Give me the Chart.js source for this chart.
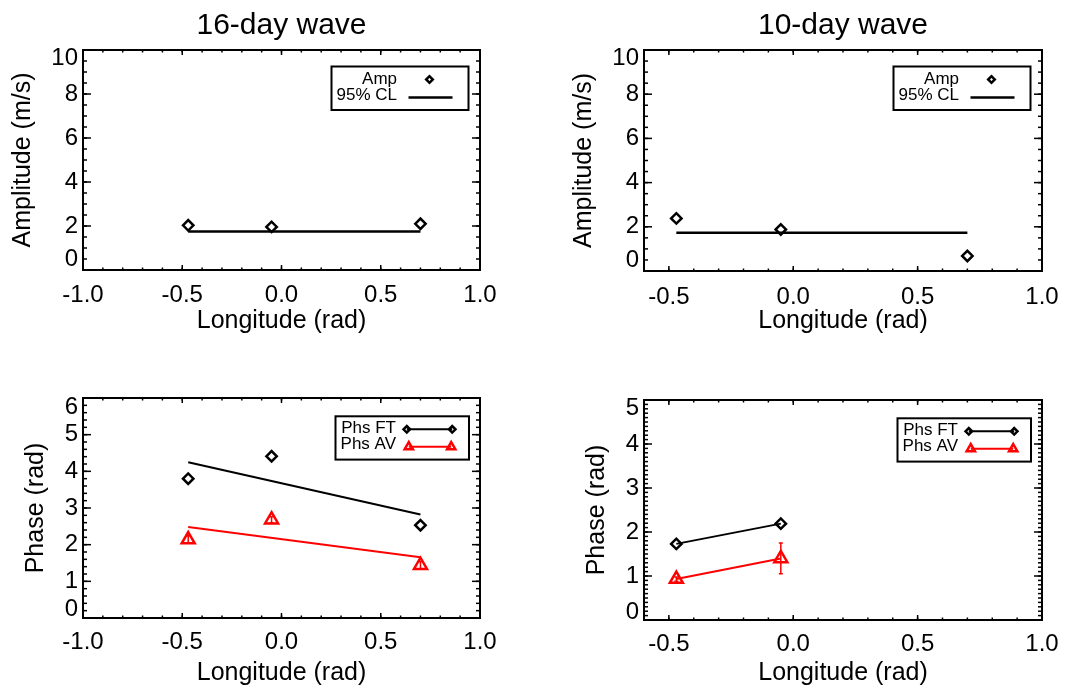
<!DOCTYPE html>
<html>
<head>
<meta charset="utf-8">
<title>16-day and 10-day wave amplitude and phase vs longitude</title>
<script src="https://cdn.jsdelivr.net/npm/chart.js@4/dist/chart.umd.min.js"></script>
<style>
  html, body { margin: 0; padding: 0; background: #fff; width: 1079px; height: 689px; overflow: hidden; }
  .panel { position: absolute; }
</style>
</head>
<body>
<div class="panel" style="left:0;top:0;width:540px;height:336px"><canvas id="ampLong"></canvas></div>
<div class="panel" style="left:561px;top:0;width:518px;height:336px"><canvas id="ampShort"></canvas></div>
<div class="panel" style="left:0;top:349px;width:540px;height:340px"><canvas id="phsLong"></canvas></div>
<div class="panel" style="left:561px;top:349px;width:518px;height:340px"><canvas id="phsShort"></canvas></div>
<script>
// Station longitudes (rad)
const lonAmp = [-0.47, -0.05, 0.70];
const lonPhs10 = [-0.47, -0.05];

// 16-day wave: amplitude (m/s) and 95% confidence level
const amp16 = [2.03, 1.96, 2.10];
const cl16 = [1.75, 1.75];

// 10-day wave: amplitude (m/s) and 95% confidence level
const amp10 = [2.38, 1.88, 0.68];
const cl10 = [1.73, 1.73];

// 16-day wave phases (rad): FT and AV estimates, AV uncertainty, fitted trend end values
const phsFT16 = [3.80, 4.41, 2.53];
const phsAV16 = [2.14, 2.68, 1.44];
const errAV16 = [0.10, 0.08, 0.10];
const fitFT16 = [4.25, 2.82];
const fitAV16 = [2.48, 1.66];

// 10-day wave phases (rad)
const phsFT10 = [1.73, 2.19];
const phsAV10 = [0.93, 1.40];
const errAV10 = [0.05, 0.35];

// Axis ticks and their labels
const lonTicksWide = [-1.0, -0.5, 0.0, 0.5, 1.0];
const lonLabelsWide = ['-1.0', '-0.5', '0.0', '0.5', '1.0'];
const lonTicksNarrow = [-0.5, 0.0, 0.5, 1.0];
const lonLabelsNarrow = ['-0.5', '0.0', '0.5', '1.0'];
const ampTicks = [0, 2, 4, 6, 8, 10];
const ampLabels = ['0', '2', '4', '6', '8', '10'];
const phsTicks16 = [0, 1, 2, 3, 4, 5, 6];
const phsLabels16 = ['0', '1', '2', '3', '4', '5', '6'];
const phsTicks10 = [0, 1, 2, 3, 4, 5];
const phsLabels10 = ['0', '1', '2', '3', '4', '5'];

const FONT = "'Liberation Sans', Arial, Helvetica, sans-serif";
const INK = '#000';
const RED = '#ff0000';

const pts = (xs, ys) => xs.map((x, i) => ({ x, y: ys[i] }));

// Hollow marker used inside the boxed legends
function drawMarker(ctx, style, x, y, r) {
  ctx.beginPath();
  if (style === 'diamond') {
    ctx.moveTo(x - r, y); ctx.lineTo(x, y - r); ctx.lineTo(x + r, y); ctx.lineTo(x, y + r);
  } else {
    const s = Math.sin(Math.PI / 3) * r;
    ctx.moveTo(x, y - r); ctx.lineTo(x + s, y + r / 2); ctx.lineTo(x - s, y + r / 2);
  }
  ctx.closePath();
  ctx.stroke();
}

// Box frame with inward major and minor ticks on all four sides
const idlFrame = {
  id: 'idlFrame',
  afterDraw(chart, args, o) {
    const { ctx, chartArea: a } = chart;
    const xs = chart.scales.x, ys = chart.scales.y;
    const seg = (x1, y1, x2, y2) => { ctx.beginPath(); ctx.moveTo(x1, y1); ctx.lineTo(x2, y2); ctx.stroke(); };
    const steps = (min, max, step) => {
      const out = []; const n = Math.round((max - min) / step);
      for (let k = 0; k <= n; k++) out.push(min + k * step);
      return out;
    };
    ctx.save();
    ctx.strokeStyle = '#000';
    ctx.lineWidth = 1.5;
    steps(xs.min, xs.max, o.xMinor).forEach(v => {
      const p = xs.getPixelForValue(v);
      seg(p, a.bottom, p, a.bottom - o.xLen / 2); seg(p, a.top, p, a.top + o.xLen / 2);
    });
    xs.ticks.forEach(t => {
      const p = xs.getPixelForValue(t.value);
      seg(p, a.bottom, p, a.bottom - o.xLen); seg(p, a.top, p, a.top + o.xLen);
    });
    steps(ys.min, ys.max, o.yMinor).forEach(v => {
      const p = ys.getPixelForValue(v);
      seg(a.left, p, a.left + o.yLen / 2, p); seg(a.right, p, a.right - o.yLen / 2, p);
    });
    ys.ticks.forEach(t => {
      const p = ys.getPixelForValue(t.value);
      seg(a.left, p, a.left + o.yLen, p); seg(a.right, p, a.right - o.yLen, p);
    });
    ctx.lineWidth = 2;
    ctx.strokeRect(a.left, a.top, a.right - a.left, a.bottom - a.top);
    ctx.restore();
  }
};

// Vertical error bars for datasets carrying an `errors` array
const errorBars = {
  id: 'errorBars',
  afterDatasetsDraw(chart) {
    const { ctx } = chart;
    const xs = chart.scales.x, ys = chart.scales.y;
    chart.data.datasets.forEach(ds => {
      if (!ds.errors) return;
      ctx.save();
      ctx.strokeStyle = ds.pointBorderColor;
      ctx.lineWidth = 1.5;
      ds.data.forEach((p, i) => {
        const e = ds.errors[i];
        const x = xs.getPixelForValue(p.x);
        const y1 = ys.getPixelForValue(p.y - e), y2 = ys.getPixelForValue(p.y + e);
        ctx.beginPath();
        ctx.moveTo(x, y1); ctx.lineTo(x, y2);
        ctx.moveTo(x - 2, y1); ctx.lineTo(x + 2, y1);
        ctx.moveTo(x - 2, y2); ctx.lineTo(x + 2, y2);
        ctx.stroke();
      });
      ctx.restore();
    });
  }
};

// Framed legend in the upper right corner of the plot
const boxLegend = {
  id: 'boxLegend',
  afterDraw(chart, args, o) {
    if (!o || !o.rows) return;
    const { ctx, chartArea: a } = chart;
    const left = a.right - o.right - o.width, top = a.top + o.top;
    ctx.save();
    ctx.lineWidth = 2;
    ctx.strokeStyle = '#000';
    ctx.strokeRect(left, top, o.width, o.height);
    ctx.font = '17px ' + FONT;
    ctx.textAlign = 'right';
    ctx.textBaseline = 'middle';
    o.rows.forEach(r => {
      const y = top + r.dy;
      ctx.fillStyle = INK;
      ctx.fillText(r.text, left + o.textRight, y);
      const sy = top + r.sampleDy;
      ctx.strokeStyle = r.color;
      if (r.line) {
        ctx.lineWidth = r.lineWidth;
        ctx.beginPath(); ctx.moveTo(left + r.line[0], sy); ctx.lineTo(left + r.line[1], sy); ctx.stroke();
      }
      ctx.lineWidth = 2.5;
      r.markers.forEach(mx => drawMarker(ctx, r.style, left + mx, sy, r.radius));
    });
    ctx.restore();
  }
};

const legendAmp = {
  right: 11.5, width: 137, top: 16.5, height: 43.5, textRight: 65.5,
  rows: [
    { text: 'Amp', dy: 12.5, sampleDy: 13, color: '#000', style: 'diamond', radius: 3.3, markers: [98] },
    { text: '95% CL', dy: 28.5, sampleDy: 31, color: '#000', line: [77, 121], lineWidth: 2.5, style: 'diamond', radius: 0, markers: [] }
  ]
};
const legendPhs = {
  right: 11, width: 133.5, top: 18.3, height: 43.3, textRight: 60.5,
  rows: [
    { text: 'Phs FT', dy: 12.5, sampleDy: 13, color: '#000', line: [71.3, 116.7], lineWidth: 2, style: 'diamond', radius: 3.3, markers: [71.3, 116.7] },
    { text: 'Phs AV', dy: 28.5, sampleDy: 30.5, color: RED, line: [73.3, 115.7], lineWidth: 2, style: 'triangle', radius: 4.8, markers: [73.3, 115.7] }
  ]
};

function diamonds(xs, ys) {
  return { data: pts(xs, ys), showLine: false, pointStyle: 'rectRot', pointRadius: 5.2,
           pointBorderWidth: 2.5, pointBorderColor: '#000', pointBackgroundColor: 'rgba(0,0,0,0)' };
}
function triangles(xs, ys, errs) {
  return { data: pts(xs, ys), errors: errs, showLine: false, pointStyle: 'triangle', pointRadius: 7.5,
           pointBorderWidth: 2.5, pointBorderColor: RED, pointBackgroundColor: 'rgba(0,0,0,0)' };
}
function trend(xs, ys, color, width) {
  return { data: pts(xs, ys), showLine: true, borderColor: color, borderWidth: width, pointRadius: 0 };
}

function makeChart(id, c) {
  // first and last y labels are nudged inside the frame (half line-height shift)
  const tickFont = (ctx) => ({ family: FONT, size: 24,
    lineHeight: (ctx.index === 0 ? c.yEndShift[0] * 2 : c.yEndShift[1] * 2) + 'px' });
  return new Chart(document.getElementById(id), {
    type: 'scatter',
    data: { datasets: c.datasets },
    options: {
      responsive: true,
      maintainAspectRatio: false,
      animation: false,
      events: [],
      layout: { padding: c.padding },
      plugins: {
        legend: { display: false },
        tooltip: { enabled: false },
        title: c.title
          ? { display: true, text: c.title, fullSize: false, color: INK,
              font: { family: FONT, size: 30, weight: 'normal' }, padding: { top: 8, bottom: 6 } }
          : { display: false },
        idlFrame: { xMinor: 0.1, yMinor: c.yMinor, xLen: 5, yLen: 8 },
        boxLegend: c.legend
      },
      scales: {
        x: {
          type: 'linear', position: 'bottom', min: c.xMin, max: c.xMax,
          afterBuildTicks: s => { s.ticks = c.xTicks.map(v => ({ value: v })); },
          afterFit: s => { s.height = c.xHeight; },
          grid: { display: false, drawTicks: false },
          border: { display: false },
          ticks: { autoSkip: false, maxRotation: 0, padding: c.xPad, color: INK,
                   font: { family: FONT, size: 24 }, callback: (v, i) => c.xLabels[i] },
          title: { display: true, text: 'Longitude (rad)', color: INK,
                   font: { family: FONT, size: 25 }, padding: { top: 0, bottom: c.xTitlePad } }
        },
        y: {
          type: 'linear', position: 'left', min: c.yMin, max: c.yMax,
          afterBuildTicks: s => { s.ticks = c.yTicks.map(v => ({ value: v })); },
          afterFit: s => { s.width = 83; },
          grid: { display: false, drawTicks: false },
          border: { display: false },
          ticks: {
            autoSkip: false, padding: 5, color: INK, font: tickFont,
            callback: (v, i, arr) => {
              const t = c.yLabels[i];
              if (i === 0) return [t, ''];
              if (i === arr.length - 1) return ['', t];
              return t;
            }
          },
          title: { display: true, text: c.yTitle, color: INK,
                   font: { family: FONT, size: 25 }, padding: { top: c.yTitlePad, bottom: 0 } }
        }
      }
    },
    plugins: [idlFrame, errorBars, boxLegend]
  });
}

const ends = [lonAmp[0], lonAmp[2]];

makeChart('ampLong', {
  title: '16-day wave',
  padding: { left: 0, right: 60, top: 0, bottom: 0 },
  xMin: -1.0, xMax: 1.0, xTicks: lonTicksWide, xLabels: lonLabelsWide,
  yMin: 0, yMax: 10, yTicks: ampTicks, yLabels: ampLabels, yMinor: 0.5, yEndShift: [11, 8.5],
  yTitle: 'Amplitude (m/s)', yTitlePad: 8.5,
  xHeight: 66, xPad: 11, xTitlePad: 0,
  legend: legendAmp,
  datasets: [trend(ends, cl16, '#000', 2.5), diamonds(lonAmp, amp16)]
});

makeChart('ampShort', {
  title: '10-day wave',
  padding: { left: 0, right: 37, top: 0, bottom: 0 },
  xMin: -0.6, xMax: 1.0, xTicks: lonTicksNarrow, xLabels: lonLabelsNarrow,
  yMin: 0, yMax: 10, yTicks: ampTicks, yLabels: ampLabels, yMinor: 0.5, yEndShift: [11, 8.5],
  yTitle: 'Amplitude (m/s)', yTitlePad: 8.5,
  xHeight: 65, xPad: 12, xTitlePad: 0,
  legend: legendAmp,
  datasets: [trend(ends, cl10, '#000', 2.5), diamonds(lonAmp, amp10)]
});

makeChart('phsLong', {
  title: null,
  padding: { left: 0, right: 60, top: 49, bottom: 0 },
  xMin: -1.0, xMax: 1.0, xTicks: lonTicksWide, xLabels: lonLabelsWide,
  yMin: 0, yMax: 6, yTicks: phsTicks16, yLabels: phsLabels16, yMinor: 0.2, yEndShift: [8.5, 9.5],
  yTitle: 'Phase (rad)', yTitlePad: 21,
  xHeight: 71, xPad: 9.5, xTitlePad: 1,
  legend: legendPhs,
  datasets: [
    trend(ends, fitFT16, '#000', 2),
    trend(ends, fitAV16, RED, 2),
    diamonds(lonAmp, phsFT16),
    triangles(lonAmp, phsAV16, errAV16)
  ]
});

const ft10 = diamonds(lonPhs10, phsFT10);
ft10.showLine = true; ft10.borderColor = '#000'; ft10.borderWidth = 2;
const av10 = triangles(lonPhs10, phsAV10, errAV10);
av10.showLine = true; av10.borderColor = RED; av10.borderWidth = 2;

makeChart('phsShort', {
  title: null,
  padding: { left: 0, right: 37, top: 51, bottom: 0 },
  xMin: -0.6, xMax: 1.0, xTicks: lonTicksNarrow, xLabels: lonLabelsNarrow,
  yMin: 0, yMax: 5, yTicks: phsTicks10, yLabels: phsLabels10, yMinor: 0.1, yEndShift: [8, 8.5],
  yTitle: 'Phase (rad)', yTitlePad: 21,
  xHeight: 69, xPad: 9.5, xTitlePad: 1,
  legend: legendPhs,
  datasets: [ft10, av10]
});
</script>
</body>
</html>
